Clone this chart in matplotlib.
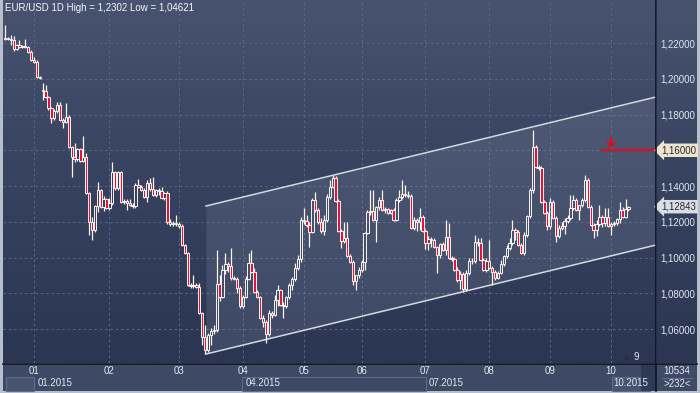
import matplotlib
matplotlib.use('Agg')
import matplotlib.pyplot as plt
import matplotlib.transforms as mtransforms
from matplotlib.patches import Rectangle
from matplotlib.lines import Line2D
from matplotlib.colors import LinearSegmentedColormap
import numpy as np

# EUR/USD daily candles
opens = [
    1.2223, 1.2228, 1.2223, 1.2217, 1.2167, 1.2189, 1.2178, 1.2183, 1.2178, 1.2150,
    1.2105, 1.2094, 1.2010, 1.1937, 1.1931, 1.1898, 1.1836, 1.1780, 1.1819, 1.1853,
    1.1769, 1.1758, 1.1786, 1.1618, 1.1562, 1.1551, 1.1607, 1.1539, 1.1562, 1.1360,
    1.1198, 1.1153, 1.1287, 1.1377, 1.1282, 1.1327, 1.1276, 1.1304, 1.1478, 1.1388,
    1.1478, 1.1310, 1.1315, 1.1304, 1.1293, 1.1287, 1.1405, 1.1394, 1.1377, 1.1338,
    1.1416, 1.1383, 1.1349, 1.1377, 1.1371, 1.1332, 1.1360, 1.1198, 1.1187, 1.1192,
    1.1187, 1.1175, 1.1069, 1.1024, 1.0845, 1.0839, 1.0845, 1.0834, 1.0688, 1.0554,
    1.0481, 1.0565, 1.0587, 1.0593, 1.0851, 1.0778, 1.0929, 1.0963, 1.0951, 1.0884,
    1.0879, 1.0828, 1.0727, 1.0778, 1.0879, 1.0968, 1.0918, 1.0806, 1.0778, 1.0660,
    1.0638, 1.0571, 1.0688, 1.0677, 1.0761, 1.0817, 1.0733, 1.0727, 1.0778, 1.0845,
    1.0879, 1.0940, 1.0991, 1.1209, 1.1203, 1.1181, 1.1142, 1.1321, 1.1265, 1.1198,
    1.1147, 1.1209, 1.1338, 1.1394, 1.1444, 1.1315, 1.1147, 1.1091, 1.1108, 1.1007,
    1.0974, 1.0867, 1.0901, 1.0929, 1.0974, 1.1136, 1.1254, 1.1259, 1.1209, 1.1282,
    1.1321, 1.1265, 1.1271, 1.1248, 1.1265, 1.1209, 1.1321, 1.1338, 1.1355, 1.1349,
    1.1343, 1.1164, 1.1209, 1.1198, 1.1226, 1.1147, 1.1080, 1.1103, 1.1097, 1.1058,
    1.1013, 1.1075, 1.1041, 1.1114, 1.0996, 1.0991, 1.0929, 1.0873, 1.0907, 1.0823,
    1.0912, 1.0979, 1.0979, 1.1086, 1.1080, 1.0985, 1.0929, 1.0979, 1.0940, 1.0918,
    1.0884, 1.0912, 1.0963, 1.1007, 1.1052, 1.1080, 1.1153, 1.1142, 1.1069, 1.1024,
    1.1125, 1.1231, 1.1377, 1.1618, 1.1506, 1.1500, 1.1310, 1.1248, 1.1175, 1.1310,
    1.1220, 1.1119, 1.1164, 1.1175, 1.1203, 1.1220, 1.1276, 1.1321, 1.1265, 1.1293,
    1.1321, 1.1433, 1.1282, 1.1181, 1.1153, 1.1187, 1.1226, 1.1192, 1.1226, 1.1175,
    1.1187, 1.1192, 1.1215, 1.1265, 1.1226, 1.1271,
]
highs = [
    1.2302, 1.2234, 1.2245, 1.2239, 1.2195, 1.2217, 1.2189, 1.2223, 1.2183, 1.2161,
    1.2122, 1.2105, 1.2015, 1.1976, 1.1965, 1.1903, 1.1842, 1.1831, 1.1870, 1.1870,
    1.1780, 1.1864, 1.1797, 1.1623, 1.1640, 1.1612, 1.1612, 1.1679, 1.1584, 1.1366,
    1.1226, 1.1293, 1.1422, 1.1383, 1.1343, 1.1332, 1.1332, 1.1534, 1.1483, 1.1483,
    1.1483, 1.1327, 1.1327, 1.1327, 1.1304, 1.1416, 1.1439, 1.1405, 1.1388, 1.1433,
    1.1444, 1.1450, 1.1383, 1.1388, 1.1394, 1.1366, 1.1371, 1.1215, 1.1203, 1.1237,
    1.1198, 1.1187, 1.1075, 1.1030, 1.0856, 1.0901, 1.0856, 1.0856, 1.0694, 1.0621,
    1.0576, 1.0604, 1.0621, 1.1041, 1.0901, 1.0957, 1.1024, 1.0974, 1.1052, 1.0895,
    1.0890, 1.0839, 1.0789, 1.0895, 1.1024, 1.1041, 1.0940, 1.0817, 1.0783, 1.0677,
    1.0649, 1.0705, 1.0699, 1.0789, 1.0845, 1.0823, 1.0750, 1.0783, 1.0856, 1.0890,
    1.0968, 1.1013, 1.1226, 1.1276, 1.1237, 1.1198, 1.1332, 1.1366, 1.1276, 1.1220,
    1.1237, 1.1355, 1.1433, 1.1461, 1.1455, 1.1327, 1.1159, 1.1198, 1.1198, 1.1019,
    1.0985, 1.0901, 1.0946, 1.0985, 1.1142, 1.1265, 1.1377, 1.1377, 1.1287, 1.1338,
    1.1377, 1.1282, 1.1276, 1.1271, 1.1276, 1.1332, 1.1377, 1.1433, 1.1405, 1.1371,
    1.1355, 1.1226, 1.1220, 1.1276, 1.1237, 1.1159, 1.1119, 1.1114, 1.1108, 1.1063,
    1.1080, 1.1086, 1.1209, 1.1192, 1.1007, 1.1002, 1.0946, 1.0923, 1.0918, 1.0929,
    1.0996, 1.0996, 1.1125, 1.1108, 1.1108, 1.0996, 1.0996, 1.1097, 1.0951, 1.0929,
    1.0923, 1.0985, 1.1013, 1.1069, 1.1108, 1.1209, 1.1164, 1.1153, 1.1080, 1.1142,
    1.1237, 1.1388, 1.1713, 1.1629, 1.1517, 1.1511, 1.1321, 1.1259, 1.1332, 1.1321,
    1.1231, 1.1181, 1.1198, 1.1220, 1.1237, 1.1349, 1.1349, 1.1332, 1.1293, 1.1332,
    1.1461, 1.1444, 1.1293, 1.1192, 1.1209, 1.1293, 1.1237, 1.1276, 1.1276, 1.1198,
    1.1203, 1.1220, 1.1310, 1.1282, 1.1327, 1.1287,
]
lows = [
    1.2217, 1.2217, 1.2189, 1.2155, 1.2161, 1.2172, 1.2172, 1.2172, 1.2144, 1.2099,
    1.2088, 1.2004, 1.1999, 1.1881, 1.1892, 1.1825, 1.1752, 1.1769, 1.1808, 1.1763,
    1.1724, 1.1752, 1.1612, 1.1450, 1.1534, 1.1539, 1.1534, 1.1534, 1.1355, 1.1125,
    1.1097, 1.1142, 1.1254, 1.1276, 1.1259, 1.1271, 1.1265, 1.1293, 1.1377, 1.1377,
    1.1304, 1.1299, 1.1265, 1.1287, 1.1276, 1.1276, 1.1388, 1.1371, 1.1332, 1.1310,
    1.1371, 1.1343, 1.1338, 1.1349, 1.1327, 1.1321, 1.1187, 1.1175, 1.1175, 1.1175,
    1.1164, 1.1063, 1.1019, 1.0839, 1.0828, 1.0828, 1.0828, 1.0683, 1.0509, 1.0462,
    1.0470, 1.0509, 1.0571, 1.0582, 1.0755, 1.0772, 1.0907, 1.0918, 1.0873, 1.0873,
    1.0800, 1.0716, 1.0716, 1.0772, 1.0873, 1.0912, 1.0800, 1.0772, 1.0655, 1.0610,
    1.0520, 1.0559, 1.0660, 1.0671, 1.0727, 1.0727, 1.0660, 1.0716, 1.0767, 1.0817,
    1.0867, 1.0929, 1.0974, 1.1187, 1.1170, 1.1058, 1.1136, 1.1254, 1.1187, 1.1136,
    1.1125, 1.1198, 1.1327, 1.1388, 1.1310, 1.1142, 1.1052, 1.1080, 1.1002, 1.0968,
    1.0845, 1.0817, 1.0884, 1.0918, 1.0929, 1.1131, 1.1237, 1.1203, 1.1086, 1.1265,
    1.1259, 1.1248, 1.1243, 1.1243, 1.1203, 1.1203, 1.1310, 1.1327, 1.1338, 1.1332,
    1.1159, 1.1153, 1.1147, 1.1153, 1.1142, 1.1047, 1.1041, 1.1058, 1.1052, 1.0912,
    1.0996, 1.1035, 1.1013, 1.0991, 1.0979, 1.0923, 1.0862, 1.0823, 1.0806, 1.0811,
    1.0901, 1.0963, 1.0968, 1.1063, 1.0979, 1.0923, 1.0918, 1.0935, 1.0845, 1.0873,
    1.0879, 1.0907, 1.0951, 1.0996, 1.1041, 1.1069, 1.1097, 1.1063, 1.1019, 1.1013,
    1.1114, 1.1220, 1.1360, 1.1500, 1.1489, 1.1304, 1.1243, 1.1153, 1.1159, 1.1215,
    1.1086, 1.1108, 1.1153, 1.1131, 1.1192, 1.1209, 1.1265, 1.1259, 1.1209, 1.1282,
    1.1310, 1.1276, 1.1175, 1.1108, 1.1119, 1.1175, 1.1170, 1.1175, 1.1170, 1.1125,
    1.1175, 1.1181, 1.1192, 1.1220, 1.1220, 1.1259,
]
closes = [
    1.2228, 1.2223, 1.2217, 1.2167, 1.2189, 1.2178, 1.2183, 1.2178, 1.2150, 1.2105,
    1.2094, 1.2010, 1.2004, 1.1931, 1.1898, 1.1836, 1.1780, 1.1819, 1.1853, 1.1769,
    1.1758, 1.1786, 1.1618, 1.1562, 1.1551, 1.1607, 1.1539, 1.1562, 1.1360, 1.1198,
    1.1153, 1.1287, 1.1377, 1.1282, 1.1327, 1.1276, 1.1304, 1.1478, 1.1388, 1.1478,
    1.1310, 1.1315, 1.1304, 1.1293, 1.1287, 1.1405, 1.1394, 1.1377, 1.1338, 1.1416,
    1.1383, 1.1349, 1.1377, 1.1371, 1.1332, 1.1360, 1.1198, 1.1187, 1.1192, 1.1187,
    1.1175, 1.1069, 1.1024, 1.0845, 1.0839, 1.0845, 1.0834, 1.0688, 1.0554, 1.0481,
    1.0565, 1.0587, 1.0593, 1.0851, 1.0778, 1.0929, 1.0963, 1.0951, 1.0884, 1.0879,
    1.0828, 1.0727, 1.0778, 1.0879, 1.0968, 1.0918, 1.0806, 1.0778, 1.0660, 1.0638,
    1.0571, 1.0688, 1.0677, 1.0761, 1.0817, 1.0733, 1.0727, 1.0778, 1.0845, 1.0879,
    1.0940, 1.0991, 1.1209, 1.1203, 1.1181, 1.1142, 1.1321, 1.1265, 1.1198, 1.1147,
    1.1209, 1.1338, 1.1394, 1.1444, 1.1315, 1.1147, 1.1091, 1.1108, 1.1007, 1.0974,
    1.0867, 1.0901, 1.0929, 1.0974, 1.1136, 1.1254, 1.1259, 1.1209, 1.1282, 1.1321,
    1.1265, 1.1271, 1.1248, 1.1265, 1.1209, 1.1321, 1.1338, 1.1355, 1.1349, 1.1343,
    1.1164, 1.1209, 1.1198, 1.1226, 1.1147, 1.1080, 1.1103, 1.1097, 1.1058, 1.1013,
    1.1075, 1.1041, 1.1114, 1.0996, 1.0991, 1.0929, 1.0873, 1.0907, 1.0823, 1.0912,
    1.0979, 1.0981, 1.1086, 1.1080, 1.0985, 1.0929, 1.0979, 1.0940, 1.0918, 1.0884,
    1.0912, 1.0963, 1.1007, 1.1052, 1.1080, 1.1153, 1.1142, 1.1069, 1.1024, 1.1125,
    1.1231, 1.1377, 1.1618, 1.1506, 1.1500, 1.1310, 1.1248, 1.1175, 1.1310, 1.1220,
    1.1119, 1.1164, 1.1175, 1.1203, 1.1220, 1.1276, 1.1321, 1.1265, 1.1293, 1.1321,
    1.1433, 1.1282, 1.1181, 1.1153, 1.1187, 1.1226, 1.1192, 1.1226, 1.1175, 1.1187,
    1.1192, 1.1215, 1.1265, 1.1226, 1.1271, 1.12843,
]

# bar index where each month starts, and labels
month_pos = [10, 36, 60, 82, 103, 123, 145, 167, 188, 209]
month_labels = ['01', '02', '03', '04', '05', '06', '07', '08', '09', '10']
year_labels = ['01.2015', '04.2015', '07.2015', '10.2015']
price_ticks = [1.06, 1.08, 1.10, 1.12, 1.14, 1.16, 1.18, 1.20, 1.22]

# trend channel and alert line
channel_x = [69.3, 224.5]
channel_top = [1.1288, 1.1898]
channel_bottom = [1.0460, 1.1070]
alert_level = 1.16
alert_start = 206
last_price = 1.12843
title = 'EUR/USD 1D High = 1,2302 Low = 1,04621'

W, H = 700, 393
def fx(px):
    return px / W
def fy(py):
    return 1 - py / H

FONT = 'Liberation Sans'
TXT = '#e1e6f0'
WHITE = '#fbf3ec'
RED = '#e3123a'

fig = plt.figure(figsize=(7, 3.93), dpi=100, facecolor='#b7bfcb')

grad = LinearSegmentedColormap.from_list('bg', ['#2b3653', '#36425f', '#47536f'])
gimg = np.linspace(0, 1, 256).reshape(-1, 1)

# bottom navigator panel (behind the axes so tick labels stay visible)
fig.add_artist(Rectangle((fx(3), fy(391)), fx(697) - fx(3), fy(364) - fy(391),
                         transform=fig.transFigure, facecolor='#3d4965', edgecolor='none',
                         zorder=-5))

# right price panel
axr = fig.add_axes([fx(657), fy(363), fx(697) - fx(657), fy(0) - fy(363)])
axr.imshow(gimg, aspect='auto', cmap=grad, origin='lower', extent=[0, 1, 0, 1])
axr.axis('off')

ax = fig.add_axes([fx(3), fy(363), fx(656) - fx(3), fy(0) - fy(363)])
x0, x1 = -0.69, 224.5
y0, y1 = 1.04098, 1.24406
ax.imshow(gimg, aspect='auto', cmap=grad, origin='lower', extent=[x0, x1, y0, y1], zorder=0)
ax.set_xlim(x0, x1)
ax.set_ylim(y0, y1)
for s in ax.spines.values():
    s.set_visible(False)

ax.set_axisbelow(True)
ax.set_xticks(month_pos)
ax.set_xticklabels(month_labels)
ax.set_yticks(price_ticks)
ax.set_yticklabels([f'{v:.5f}'.replace('.', ',') for v in price_ticks])
ax.yaxis.tick_right()
ax.tick_params(axis='both', length=0, labelsize=7, labelcolor=TXT)
ax.tick_params(axis='y', pad=3)
ax.tick_params(axis='x', pad=2.5)
for lab in ax.get_xticklabels() + ax.get_yticklabels():
    lab.set_fontfamily(FONT)
ax.grid(True, color='#5b6886', linestyle=(0, (2.5, 3)), linewidth=0.7)

# channel
ax.fill_between(channel_x, channel_bottom, channel_top, color='#b4bed6', alpha=0.14,
                linewidth=0, zorder=1)
ax.plot(channel_x, channel_top, color='#d4d8e0', lw=1.1, zorder=2)
ax.plot(channel_x, channel_bottom, color='#d4d8e0', lw=1.1, zorder=2)

# candles
o = np.array(opens)
h = np.array(highs)
l = np.array(lows)
c = np.array(closes)
xs = np.arange(len(c))
top = np.maximum(o, c)
bot = np.minimum(o, c)
ax.vlines(xs, top, h, color=WHITE, lw=0.9, zorder=3)
ax.vlines(xs, l, bot, color=WHITE, lw=0.9, zorder=3)
down = c < o
ax.bar(xs, np.maximum(top - bot, 0.0003), bottom=bot, width=0.8,
       color=[RED if d else 'none' for d in down], edgecolor=WHITE, linewidth=0.7, zorder=4)

# alert line and arrow
ax.plot([alert_start, x1], [alert_level, alert_level], color='#e00b1c', lw=1.6, zorder=5)
ax.annotate('', xy=(209, 1.1612), xytext=(209, 1.1672),
            arrowprops=dict(arrowstyle='->,head_length=0.3,head_width=0.25', color='#e00b1c',
                            lw=1.5, shrinkA=0, shrinkB=0),
            zorder=6)

# price tags on the right
tr = mtransforms.blended_transform_factory(ax.transAxes, ax.transData)
ax.text(1.008, alert_level, '1,16000', transform=tr, ha='left', va='center', fontsize=7,
        fontfamily=FONT, color='#2a2a2a', clip_on=False, zorder=10,
        bbox=dict(boxstyle='larrow,pad=0.18', fc='#ece6cf', ec='none'))
ax.text(1.008, last_price, f'{last_price:.5f}'.replace('.', ','), transform=tr, ha='left',
        va='center', fontsize=7, fontfamily=FONT, color='#2a2a2a', clip_on=False, zorder=10,
        bbox=dict(boxstyle='larrow,pad=0.18', fc='#d9dde5', ec='none'))

# frame lines
fig.add_artist(Line2D([fx(656), fx(656)], [fy(391), fy(0)], transform=fig.transFigure,
                      color='#0d1220', lw=1.2))
fig.add_artist(Line2D([fx(3), fx(697)], [fy(363.5), fy(363.5)], transform=fig.transFigure,
                      color='#0d1220', lw=1.2))

# title
fig.text(fx(5), fy(8), title, ha='left', va='center', fontsize=7, fontfamily=FONT, color='#f4f6fa')

# bar-count marker
fig.text(fx(627), fy(357), '\u25b2', ha='center', va='center', fontsize=5, color='#242d45')
fig.text(fx(633), fy(357), '9', ha='left', va='center', fontsize=7, fontfamily=FONT, color=TXT)

# navigator boxes
for bx0, bx1, fc in [(6, 34, '#47536f'), (242, 426, 'none'), (612, 650, '#47536f')]:
    fig.add_artist(Rectangle((fx(bx0), fy(391)), fx(bx1) - fx(bx0), fy(377) - fy(391),
                             transform=fig.transFigure, facecolor=fc, edgecolor='#5f6c8a', lw=0.8))
fig.add_artist(Rectangle((fx(641), fy(391)), fx(655) - fx(641), fy(364) - fy(391),
                         transform=fig.transFigure, facecolor='#2c3752', edgecolor='none', alpha=0.85))
for lab, px in zip(year_labels, [38, 246, 429, 613]):
    fig.text(fx(px), fy(383), lab, ha='left', va='center', fontsize=7, fontfamily=FONT, color=TXT)

# corner info
fig.text(fx(677), fy(371), '10534', ha='center', va='center', fontsize=7, fontfamily=FONT, color=TXT)
fig.text(fx(677), fy(384), '>232<', ha='center', va='center', fontsize=7, fontfamily=FONT, color=TXT)
fig.add_artist(Line2D([fx(662), fx(692)], [fy(378), fy(378)], transform=fig.transFigure,
                      color='#5f6c8a', lw=0.8))

fig.savefig('out.png', dpi=100, facecolor=fig.get_facecolor())
